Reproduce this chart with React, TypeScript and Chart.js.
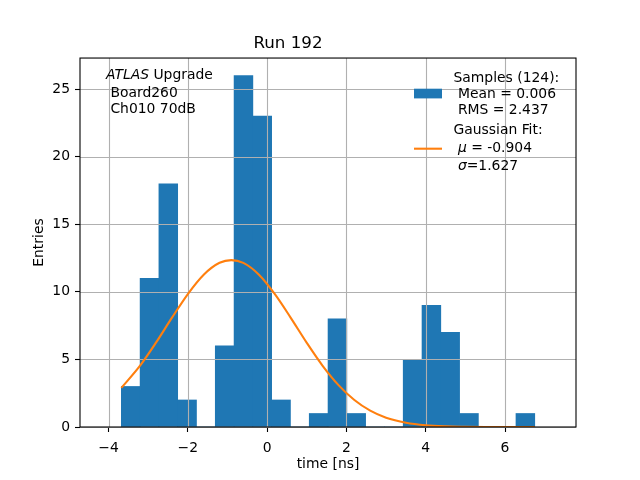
import { useEffect, useRef } from "react"
import { Chart, registerables } from "chart.js"

Chart.register(...registerables)

// histogram bins (time in ns) and entries per bin
const binEdges = [
  -3.678, -3.204, -2.73, -2.256, -1.782, -1.308, -0.834, -0.36, 0.114, 0.588, 1.062, 1.536,
  2.01, 2.484, 2.958, 3.432, 3.906, 4.38, 4.854, 5.328, 5.802, 6.276, 6.75,
]
const counts = [3, 11, 18, 2, 0, 6, 26, 23, 2, 0, 1, 8, 1, 0, 0, 5, 9, 7, 1, 0, 0, 1]

// gaussian fit curve
const fitX = [
  -3.678, -3.2, -2.8, -2.4, -2.0, -1.6, -1.2, -0.904, -0.6, -0.2, 0.2, 0.6, 1.0, 1.4, 1.8,
  2.2, 2.6, 3.0, 3.5, 4.0, 4.5, 5.0, 5.5, 6.0, 6.75,
]
const fitY = [
  2.89, 4.56, 6.26, 8.09, 9.84, 11.27, 12.15, 12.35, 12.14, 11.25, 9.81, 8.06, 6.23, 4.53,
  3.1, 2.0, 1.21, 0.69, 0.32, 0.13, 0.05, 0.02, 0.005, 0, 0,
]

const xTicks = [-4, -2, 0, 2, 4, 6]
const yTicks = [0, 5, 10, 15, 20, 25]

const titleText = "Run 192"
const xLabel = "time [ns]"
const yLabel = "Entries"
const sampleLines = ["Samples (124):", " Mean = 0.006", " RMS = 2.437"]
const fitLines: [string, boolean][][] = [
  [["Gaussian Fit:", false]],
  [[" ", false], ["\u03bc", true], [" = -0.904", false]],
  [[" ", false], ["\u03c3", true], ["=1.627", false]],
]
const infoLines: [string, boolean][][] = [
  [["ATLAS", true], [" Upgrade", false]],
  [[" Board260", false]],
  [[" Ch010 70dB", false]],
]

const FONT = "'DejaVu Sans', sans-serif"
const FS = 13.9
const BLUE = "#1f77b4"
const ORANGE = "#ff7f0e"

function drawRich(ctx: CanvasRenderingContext2D, parts: [string, boolean][], x: number, y: number) {
  let cx = x
  for (const [t, italic] of parts) {
    ctx.font = `${italic ? "italic " : ""}${FS}px ${FONT}`
    ctx.fillText(t, cx, y)
    cx += ctx.measureText(t).width
  }
}

const decorPlugin = {
  id: "decor",
  // grid goes over the bars but under the fit line
  afterDatasetDraw(chart: any, args: any) {
    if (args.index !== 0) return
    const { ctx, chartArea: a, scales } = chart
    ctx.save()
    ctx.strokeStyle = "#b0b0b0"
    ctx.lineWidth = 1.1
    ctx.beginPath()
    for (const v of xTicks) {
      const px = Math.round(scales.x.getPixelForValue(v)) + 0.5
      ctx.moveTo(px, a.top)
      ctx.lineTo(px, a.bottom)
    }
    for (const v of yTicks) {
      const py = Math.round(scales.y.getPixelForValue(v)) + 0.5
      ctx.moveTo(a.left, py)
      ctx.lineTo(a.right, py)
    }
    ctx.stroke()
    ctx.restore()
  },
  afterDraw(chart: any) {
    const { ctx, chartArea: a } = chart
    ctx.save()
    // frame
    ctx.strokeStyle = "#000"
    ctx.lineWidth = 1.1
    ctx.strokeRect(a.left, a.top, a.right - a.left, a.bottom - a.top)

    ctx.fillStyle = "#000"
    ctx.textBaseline = "alphabetic"
    ctx.textAlign = "left"

    // info text top left
    const infoBase = [78.7, 96.5, 112.7]
    infoLines.forEach((parts, i) => drawRich(ctx, parts, 106, infoBase[i]))

    // legend
    ctx.fillStyle = BLUE
    ctx.fillRect(414, 88.7, 28, 9.7)
    ctx.strokeStyle = ORANGE
    ctx.lineWidth = 2.1
    ctx.beginPath()
    ctx.moveTo(414, 148.7)
    ctx.lineTo(442, 148.7)
    ctx.stroke()

    ctx.fillStyle = "#000"
    const sampleBase = [81.5, 97.8, 114.3]
    sampleLines.forEach((t, i) => drawRich(ctx, [[t, false]], 453.5, sampleBase[i]))
    const fitBase = [134.3, 152.3, 170]
    fitLines.forEach((parts, i) => drawRich(ctx, parts, 453.5, fitBase[i]))
    ctx.restore()
  },
}

export default function App() {
  const chartRef = useRef<HTMLCanvasElement>(null)
  const chartInstance = useRef<Chart | null>(null)

  useEffect(() => {
    if (!chartRef.current) return
    if (chartInstance.current) chartInstance.current.destroy()
    const ctx = chartRef.current.getContext("2d")
    if (!ctx) return

    const bars = counts.map((c, i) => ({ x: (binEdges[i] + binEdges[i + 1]) / 2, y: c }))
    const fit = fitX.map((x, i) => ({ x, y: fitY[i] }))

    chartInstance.current = new Chart(ctx, {
      type: "bar",
      data: {
        datasets: [
          {
            type: "bar",
            label: "Samples",
            data: bars,
            backgroundColor: BLUE,
            borderWidth: 0,
            barPercentage: 1,
            categoryPercentage: 1,
            order: 2,
          },
          {
            type: "line",
            label: "Gaussian Fit",
            data: fit,
            borderColor: ORANGE,
            borderWidth: 2.1,
            pointRadius: 0,
            fill: false,
            cubicInterpolationMode: "monotone",
            order: 1,
          },
        ] as any,
      },
      options: {
        responsive: false,
        animation: false,
        events: [],
        layout: { padding: { left: 0, right: 64, top: 0, bottom: 0 } },
        scales: {
          x: {
            type: "linear",
            offset: false,
            min: -4.72,
            max: 7.79,
            afterBuildTicks: (scale: any) => {
              scale.ticks = xTicks.map((v) => ({ value: v }))
            },
            afterFit: (scale: any) => {
              scale.height = 53
            },
            grid: {
              offset: false,
              drawOnChartArea: false,
              tickLength: 5,
              tickColor: "#000",
              tickWidth: 1.1,
            },
            border: { display: false },
            ticks: {
              color: "#000",
              padding: 8.5,
              font: { family: FONT, size: FS },
              callback: (v: any) => (v < 0 ? "\u2212" + Math.abs(v) : String(v)),
            },
            title: {
              display: true,
              text: xLabel,
              color: "#000",
              font: { family: FONT, size: FS },
              padding: { top: 0, bottom: 7 },
            },
          },
          y: {
            min: 0,
            max: 27.3,
            afterBuildTicks: (scale: any) => {
              scale.ticks = yTicks.map((v) => ({ value: v }))
            },
            afterFit: (scale: any) => {
              scale.width = 80
            },
            grid: { drawOnChartArea: false, tickLength: 5, tickColor: "#000", tickWidth: 1.1 },
            border: { display: false },
            ticks: {
              color: "#000",
              padding: 5,
              font: { family: FONT, size: FS },
            },
            title: {
              display: true,
              text: yLabel,
              color: "#000",
              font: { family: FONT, size: FS },
              padding: { top: 31, bottom: 0 },
            },
          },
        },
        plugins: {
          legend: { display: false },
          tooltip: { enabled: false },
          title: {
            display: true,
            text: titleText,
            color: "#000",
            font: { family: FONT, size: 16.7, weight: "normal" },
            padding: { top: 33.2, bottom: 4.8 },
          },
        },
      },
      plugins: [decorPlugin],
    })

    return () => {
      if (chartInstance.current) {
        chartInstance.current.destroy()
        chartInstance.current = null
      }
    }
  }, [])

  return (
    <div style={{ position: "absolute", left: 0, top: 0, width: 640, height: 480, background: "#fff" }}>
      <canvas ref={chartRef} width={640} height={480} style={{ width: 640, height: 480 }} />
    </div>
  )
}
